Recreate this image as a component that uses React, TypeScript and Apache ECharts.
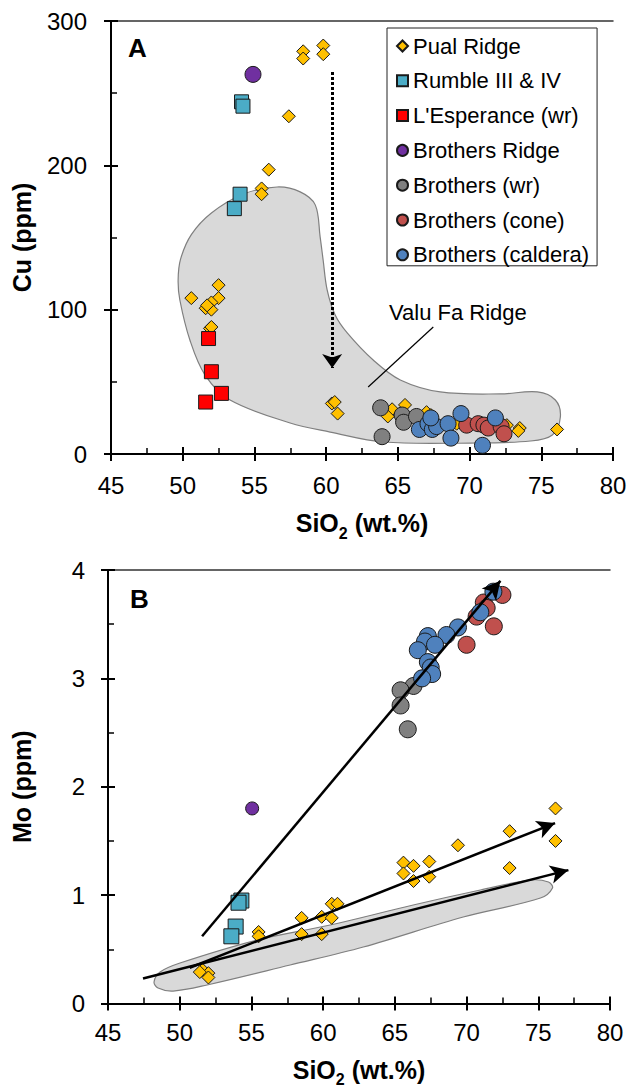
import React, { useEffect, useRef } from 'react';
import * as echarts from 'echarts';

const FONT = '"Liberation Sans", Arial, Helvetica, sans-serif';

// ---- Panel A: Cu (ppm) vs SiO2 (wt.%) ----
const pualA = [
  [58.4, 279], [58.4, 274], [59.8, 283], [59.8, 277], [57.4, 234], [56.0, 197], [55.5, 184], [55.5, 180],
  [52.5, 117], [50.6, 108], [52.5, 108], [51.6, 101], [52.0, 105], [52.0, 100], [51.7, 103], [51.9, 87], [52.0, 88],
  [60.4, 35], [60.6, 36], [60.8, 28],
  [64.6, 31], [64.3, 26], [65.5, 34], [67.0, 29], [67.3, 27], [69.1, 21], [72.6, 20], [73.5, 18], [73.4, 16], [76.1, 17],
];
const rumbleA = [[54.1, 244], [54.2, 241], [54.0, 180], [53.6, 170]];
const esperanceA = [[51.8, 80], [52.0, 57], [52.7, 42], [51.6, 36]];
const brothersRidgeA = [[54.9, 263]];
const brothersWrA = [[63.8, 32], [63.9, 12], [65.3, 27], [65.4, 22], [66.3, 26]];
const brothersConeA = [[69.8, 20], [70.6, 21], [71.0, 20], [71.3, 18], [72.2, 19], [72.4, 14]];
const brothersCalderaA = [
  [66.5, 17], [67.1, 21], [67.4, 17], [67.7, 19], [68.5, 21], [68.7, 11], [69.4, 28], [70.9, 6], [71.8, 25], [67.3, 25],
];
// Valu Fa Ridge field outline
const valuFaA = [
  [56.58, 185], [58.19, 181.6], [59.24, 172.6], [59.58, 150.4], [59.79, 134.4], [60.07, 113.7], [60.63, 96.3],
  [61.47, 83.9], [63.28, 65.1], [65.17, 51.3], [67.96, 43], [72.15, 41.6], [74.73, 43], [75.98, 37.4],
  [76.33, 25.6], [75.77, 13.2], [74.24, 9], [70.05, 7.6], [64.0, 8.3], [60.28, 15.2], [57.49, 21.5],
  [53.3, 37.4], [51.56, 54.7], [50.5, 79], [49.8, 106.7], [49.68, 120.6], [49.85, 135], [50.6, 152],
  [52.0, 167], [54.2, 180],
];
const dottedArrowA = [[60.42, 264.7], [60.42, 59.6]];
const leaderA = [[67.47, 88.0], [62.93, 46.4]];

// ---- Panel B: Mo (ppm) vs SiO2 (wt.%) ----
const pualB = [
  [51.6, 0.31], [52.0, 0.28], [52.0, 0.24], [51.4, 0.29], [55.5, 0.66], [55.5, 0.62], [58.5, 0.79], [58.5, 0.64],
  [59.9, 0.80], [59.9, 0.64], [60.6, 0.92], [61.0, 0.92], [60.6, 0.79], [65.6, 1.30], [65.6, 1.20], [66.3, 1.27],
  [66.3, 1.13], [67.4, 1.31], [67.4, 1.17], [69.4, 1.46], [73.0, 1.59], [73.0, 1.25], [76.2, 1.80], [76.2, 1.50],
];
const rumbleB = [[54.3, 0.95], [54.1, 0.93], [53.9, 0.71], [53.6, 0.62]];
const brothersRidgeB = [[55.05, 1.80]];
const brothersWrB = [[66.3, 2.93], [65.4, 2.89], [65.4, 2.75], [65.9, 2.53]];
const brothersConeB = [[72.5, 3.77], [71.2, 3.70], [71.4, 3.65], [70.7, 3.57], [71.9, 3.48], [70.0, 3.31]];
const brothersCalderaB = [
  [71.87, 3.80], [70.96, 3.61], [69.4, 3.47], [68.6, 3.40], [67.3, 3.39], [67.1, 3.34], [67.8, 3.31],
  [66.6, 3.26], [67.3, 3.15], [67.5, 3.10], [67.6, 3.04], [66.9, 3.0],
];
const fieldB = [
  [48.21, 0.198], [48.63, 0.291], [50.02, 0.374], [55.4, 0.586], [60.49, 0.724], [66.28, 0.909], [70.96, 1.047],
  [74.45, 1.139], [75.71, 1.121], [75.99, 1.066], [75.15, 0.973], [69.77, 0.798], [62.8, 0.521], [57.7, 0.355],
  [51.91, 0.171], [49.54, 0.115], [48.49, 0.143],
];
const trendArrowsB = [
  [[51.56, 0.62], [72.36, 3.9]],
  [[50.7, 0.33], [76.17, 1.665]],
  [[47.44, 0.23], [77.1, 1.231]],
];

const siTicks = { min: 45, max: 80, interval: 5 };
const cuTicks = { min: 0, max: 300, interval: 100 };
const moTicks = { min: 0, max: 4, interval: 1 };

const legendNames = [
  'Pual Ridge', 'Rumble III & IV', "L'Esperance (wr)", 'Brothers Ridge',
  'Brothers (wr)', 'Brothers (cone)', 'Brothers (caldera)',
];
const legendIcons = ['diamond', 'rect', 'rect', 'circle', 'circle', 'circle', 'circle'];
const colors = ['#FFC000', '#4BACC6', '#FF0000', '#7030A0', '#808080', '#C0504D', '#4F81BD'];

const axisBase = (gridIndex: number, ticks: any) => ({
  type: 'value',
  gridIndex,
  ...ticks,
  splitLine: { show: false },
  minorSplitLine: { show: false },
});

const titleStyle = (lineHeight: number) => ({
  fontFamily: FONT, fontSize: 25, fontWeight: 'bold', color: '#000', lineHeight,
  rich: {
    sub: { fontFamily: FONT, fontSize: 16, fontWeight: 'bold', color: '#000', verticalAlign: 'bottom', lineHeight: 16 },
  },
});

const mainAxis = (gridIndex: number, ticks: any, extra: any) => ({
  ...axisBase(gridIndex, ticks),
  axisLine: { show: true, onZero: false, lineStyle: { color: '#000', width: 2 } },
  axisTick: { show: true, inside: true, length: 7, lineStyle: { color: '#000', width: 2 } },
  minorTick: { show: true, splitNumber: 2, length: 6, lineStyle: { color: '#000', width: 1.5 } },
  nameLocation: 'middle',
  ...extra,
});

const outerTicks = (gridIndex: number, ticks: any, position: string) => ({
  ...axisBase(gridIndex, ticks),
  position,
  axisLine: { show: false, onZero: false },
  axisTick: { show: true, inside: false, length: 7, lineStyle: { color: '#000', width: 2 } },
  axisLabel: { show: false },
});

const topLine = (gridIndex: number) => ({
  ...axisBase(gridIndex, siTicks),
  position: 'top',
  axisLine: { show: true, onZero: false, lineStyle: { color: '#333', width: 1.5 } },
  axisTick: { show: false },
  axisLabel: { show: false },
});

const tickLabel = (margin: number) => ({
  fontFamily: FONT, fontSize: 24, color: '#000', margin,
});

const fieldSeries = (xi: number, yi: number, outline: number[][]) => ({
  type: 'custom',
  xAxisIndex: xi,
  yAxisIndex: yi,
  silent: true,
  z: 1,
  data: [outline[0]],
  renderItem: (_params: any, api: any) => ({
    type: 'polygon',
    shape: { points: outline.map((p) => api.coord(p)), smooth: 0.35 },
    style: { fill: '#D9D9D9', stroke: '#7F7F7F', lineWidth: 1.2 },
  }),
});

const scatter = (name: string, data: number[][], xi: number, yi: number, symbol: string, size: number, color: string) => ({
  type: 'scatter',
  name,
  data,
  xAxisIndex: xi,
  yAxisIndex: yi,
  symbol,
  symbolSize: size,
  z: 3,
  itemStyle: { color, borderColor: '#1a1a1a', borderWidth: 1, opacity: 1 },
  emphasis: { disabled: true },
});

const arrowSeries = (xi: number, yi: number, lines: number[][][], lineStyle: any, symbol: string[], symbolSize: number[]) => ({
  type: 'line',
  xAxisIndex: xi,
  yAxisIndex: yi,
  data: [],
  z: 4,
  markLine: {
    silent: true,
    animation: false,
    symbol,
    symbolSize,
    label: { show: false },
    emphasis: { disabled: true },
    lineStyle,
    data: lines.map(([a, b]) => [{ coord: a }, { coord: b }]),
  },
});

export default function App() {
  const ref = useRef<HTMLDivElement>(null);

  useEffect(() => {
    if (!ref.current) return;
    const chart = echarts.init(ref.current, null, { renderer: 'svg' });

    const option: any = {
      animation: false,
      backgroundColor: '#fff',
      textStyle: { fontFamily: FONT },
      grid: [
        { left: 111, top: 21, width: 502, height: 433, outerBoundsMode: 'none', containLabel: false },
        { left: 108, top: 570, width: 502, height: 433.5, outerBoundsMode: 'none', containLabel: false },
      ],
      xAxis: [
        mainAxis(0, siTicks, {
          position: 'bottom', name: 'SiO{sub|2} (wt.%)', nameGap: 51,
          nameTextStyle: titleStyle(36), axisLabel: tickLabel(19),
        }),
        outerTicks(0, siTicks, 'bottom'),
        topLine(0),
        mainAxis(1, siTicks, {
          position: 'bottom', name: 'SiO{sub|2} (wt.%)', nameGap: 48,
          nameTextStyle: titleStyle(36), axisLabel: tickLabel(17),
        }),
        outerTicks(1, siTicks, 'bottom'),
        topLine(1),
      ],
      yAxis: [
        mainAxis(0, cuTicks, {
          position: 'left', name: 'Cu (ppm)', nameGap: 77,
          nameTextStyle: titleStyle(25), axisLabel: tickLabel(24),
        }),
        outerTicks(0, cuTicks, 'left'),
        mainAxis(1, moTicks, {
          position: 'left', name: 'Mo (ppm)', nameGap: 74,
          nameTextStyle: titleStyle(25), axisLabel: tickLabel(23),
        }),
        outerTicks(1, moTicks, 'left'),
      ],
      legend: {
        orient: 'vertical',
        left: 387,
        top: 28,
        padding: [7, 8, 0, 9],
        itemGap: 12.8,
        itemWidth: 11,
        itemHeight: 11,
        borderColor: '#222',
        borderWidth: 1,
        selectedMode: false,
        textStyle: { fontFamily: FONT, fontSize: 22, color: '#000' },
        data: legendNames.map((name, i) => ({ name, icon: legendIcons[i] })),
      },
      graphic: [
        { type: 'text', left: 128, top: 35, style: { text: 'A', font: `bold 26px ${FONT}`, fill: '#000' } },
        { type: 'text', left: 130, top: 586, style: { text: 'B', font: `bold 26px ${FONT}`, fill: '#000' } },
        { type: 'text', left: 389, top: 301, style: { text: 'Valu Fa Ridge', font: `22px ${FONT}`, fill: '#000' } },
      ],
      series: [
        fieldSeries(0, 0, valuFaA),
        scatter(legendNames[0], pualA, 0, 0, 'diamond', 13, colors[0]),
        scatter(legendNames[1], rumbleA, 0, 0, 'rect', 14, colors[1]),
        scatter(legendNames[2], esperanceA, 0, 0, 'rect', 14, colors[2]),
        scatter(legendNames[3], brothersRidgeA, 0, 0, 'circle', 16, colors[3]),
        scatter(legendNames[4], brothersWrA, 0, 0, 'circle', 16, colors[4]),
        scatter(legendNames[5], brothersConeA, 0, 0, 'circle', 16, colors[5]),
        scatter(legendNames[6], brothersCalderaA, 0, 0, 'circle', 16, colors[6]),
        arrowSeries(0, 0, [dottedArrowA], { color: '#000', width: 3, type: [3, 2] }, ['none', 'arrow'], [15, 14]),
        arrowSeries(0, 0, [leaderA], { color: '#000', width: 1.2, type: 'solid' }, ['none', 'none'], [1, 1]),

        fieldSeries(3, 2, fieldB),
        scatter(legendNames[0], pualB, 3, 2, 'diamond', 13, colors[0]),
        scatter(legendNames[1], rumbleB, 3, 2, 'rect', 15, colors[1]),
        scatter(legendNames[3], brothersRidgeB, 3, 2, 'circle', 13, colors[3]),
        scatter(legendNames[4], brothersWrB, 3, 2, 'circle', 17, colors[4]),
        scatter(legendNames[5], brothersConeB, 3, 2, 'circle', 17, colors[5]),
        scatter(legendNames[6], brothersCalderaB, 3, 2, 'circle', 17, colors[6]),
        arrowSeries(3, 2, trendArrowsB, { color: '#000', width: 2.5, type: 'solid' }, ['none', 'arrow'], [14, 18]),
      ],
    };

    chart.setOption(option);
    return () => chart.dispose();
  }, []);

  return (
    <div
      ref={ref}
      style={{ position: 'absolute', left: 0, top: 0, width: 630, height: 1089, background: '#fff' }}
    />
  );
}
